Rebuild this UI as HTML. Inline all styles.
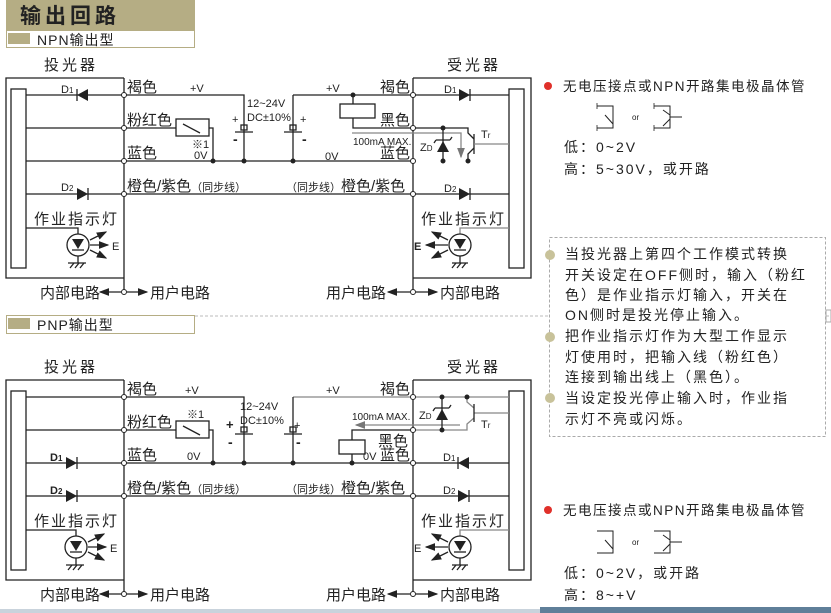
<!DOCTYPE html>
<html><head><meta charset="utf-8"><style>
body{margin:0;background:#fff;width:831px;height:613px;overflow:hidden}
svg{display:block}
text{font-family:"Liberation Sans","Noto Sans CJK SC",sans-serif;fill:#222}
.c{font-size:15px}
.s{font-size:11px}
.w{stroke:#222;stroke-width:1.3;fill:none}
.g{stroke:#888;stroke-width:1.3;fill:none}
.r{font-size:14px;letter-spacing:2px}
</style></head><body>
<svg width="831" height="613" viewBox="0 0 831 613">
<defs>
<marker id="ah" markerWidth="8" markerHeight="6" refX="7" refY="3" orient="auto"><path d="M0,0L8,3L0,6z" fill="#222"/></marker>
<marker id="ag" markerWidth="8" markerHeight="6" refX="7" refY="3" orient="auto"><path d="M0,0L8,3L0,6z" fill="#777"/></marker>
</defs>
<!-- header -->
<rect x="6" y="0" width="189" height="30" fill="#b5ad84"/>
<text x="20" y="23" style="font-size:21px;font-weight:bold;letter-spacing:4px" fill="#2a2a2a">输出回路</text>
<rect x="6.5" y="30.5" width="188" height="17" fill="#fff" stroke="#b5ad84"/>
<rect x="8" y="33" width="22" height="11" fill="#b5ad84"/>
<text x="37" y="45" style="font-size:14px;letter-spacing:1px">NPN输出型</text>

<!-- ========== NPN ========== -->
<text x="44" y="70" class="c" style="letter-spacing:3px">投光器</text>
<text x="447" y="70" class="c" style="letter-spacing:3px">受光器</text>
<path class="w" d="M124,78H6V278H124"/>
<rect x="11" y="89" width="15" height="179" class="w"/>
<path class="w" d="M124,78V292"/>
<path class="w" d="M413,78H531V278H413"/>
<rect x="509" y="89" width="15" height="179" class="w"/>
<path class="w" d="M413,78V292"/>
<path class="w" d="M26,95H244V125M26,128H176M26,161H413M26,194H413M209,128H213V161"/>
<rect x="176" y="119" width="33" height="17" class="w"/>
<path class="w" d="M183,124L200,133"/>
<polygon points="88,89 88,101 77,95" fill="#222"/><path class="w" d="M77,89V101"/>
<text x="61" y="93" class="s">D<tspan font-size="8">1</tspan></text>
<polygon points="77,188 77,200 88,194" fill="#222"/><path class="w" d="M88,188V200"/>
<text x="61" y="191" class="s">D<tspan font-size="8">2</tspan></text>
<text x="34" y="224" class="c" style="letter-spacing:2px">作业指示灯</text>
<path class="w" d="M26,228H78V234M78,256V263M68,263H86"/>
<path d="M70,268l4,-5M75,268l4,-5M80,268l4,-5" class="w" stroke-width="1"/>
<circle cx="78" cy="245" r="11" class="w"/>
<polygon points="72,239 84,239 78,249" fill="#222"/><path class="w" d="M72,250H84"/>
<path class="w" d="M90,240L106,232" marker-end="url(#ah)"/><path class="w" d="M90,245H108" marker-end="url(#ah)"/><path class="w" d="M90,250L106,258" marker-end="url(#ah)"/>
<text x="112" y="250" class="s">E</text>
<text x="127" y="92" class="c">褐色</text>
<text x="127" y="125" class="c">粉红色</text>
<text x="127" y="158" class="c">蓝色</text>
<text x="127" y="191" class="c">橙色/紫色<tspan font-size="11">（同步线）</tspan></text>
<text x="190" y="92" class="s">+V</text>
<text x="192" y="148" class="s">※1</text>
<text x="194" y="159" class="s">0V</text>
<path class="w" d="M244,125V161"/><rect x="241" y="125" width="6" height="5" class="w"/><path class="w" d="M235,132H253"/>
<text x="232" y="123" class="s">+</text><text x="233" y="144" style="font-size:14px;font-weight:bold">-</text>
<text x="247" y="107" class="s">12~24V</text><text x="247" y="121" class="s">DC±10%</text>
<path class="w" d="M293,95V125"/><path class="w" d="M293,125V161"/><rect x="290" y="125" width="6" height="5" class="w"/><path class="w" d="M284,132H302"/>
<text x="300" y="123" class="s">+</text><text x="302" y="144" style="font-size:14px;font-weight:bold">-</text>
<circle cx="213" cy="161" r="2.5" fill="#222"/><circle cx="244" cy="161" r="2.5" fill="#222"/><circle cx="293" cy="161" r="2.5" fill="#222"/>
<path class="w" d="M293,95H413"/>
<text x="326" y="92" class="s">+V</text>
<circle cx="353" cy="95" r="2.5" fill="#222"/>
<path class="w" d="M353,95V104M353,118V128H413"/>
<rect x="340" y="104" width="35" height="14" class="w"/>
<text x="380" y="125" class="c">黑色</text>
<path class="g" d="M352,133H461V157" marker-end="url(#ag)"/>
<text x="353" y="145" style="font-size:10px">100mA MAX.</text>
<text x="325" y="160" class="s">0V</text>
<text x="380" y="92" class="c">褐色</text>
<text x="380" y="158" class="c">蓝色</text>
<text x="286" y="191" class="c"><tspan font-size="11">（同步线）</tspan>橙色/紫色</text>
<path class="w" d="M413,128H468V133L474,139M474,148L468,154V161"/>
<path class="w" d="M474,134V154" stroke-width="2"/>
<path class="g" d="M474,144H509"/>
<text x="481" y="138" class="s">T<tspan font-size="8">r</tspan></text>
<path class="w" d="M443,128V161"/>
<polygon points="437,152 449,152 443,141" fill="#222"/><path class="w" d="M436,140H450M436,140l-2,3M450,140l2,-3"/>
<text x="420" y="151" class="s">Z<tspan font-size="8">D</tspan></text>
<circle cx="443" cy="128" r="2.5" fill="#222"/><circle cx="443" cy="161" r="2.5" fill="#222"/><circle cx="468" cy="161" r="2.5" fill="#222"/>
<path class="w" d="M413,95H509M413,194H509"/>
<polygon points="459,89 459,101 470,95" fill="#222"/><path class="w" d="M470,89V101"/>
<text x="444" y="93" class="s">D<tspan font-size="8">1</tspan></text>
<polygon points="459,188 459,200 470,194" fill="#222"/><path class="w" d="M470,188V200"/>
<text x="444" y="192" class="s">D<tspan font-size="8">2</tspan></text>
<text x="421" y="224" class="c" style="letter-spacing:2px">作业指示灯</text>
<path class="g" d="M509,228H460V234"/>
<path class="w" d="M460,256V263M452,263H468"/>
<path d="M452,268l4,-5M457,268l4,-5M462,268l4,-5" class="w" stroke-width="1"/>
<circle cx="460" cy="245" r="11" class="w"/>
<polygon points="454,239 466,239 460,249" fill="#222"/><path class="w" d="M454,250H466"/>
<path class="w" d="M448,240L432,232" marker-end="url(#ah)"/><path class="w" d="M448,245H426" marker-end="url(#ah)"/><path class="w" d="M448,250L432,258" marker-end="url(#ah)"/>
<text x="414" y="250" style="font-size:11px;font-weight:bold">E</text>
<g fill="#fff" stroke="#222" stroke-width="1">
<circle cx="124" cy="95" r="2.5"/><circle cx="124" cy="128" r="2.5"/><circle cx="124" cy="161" r="2.5"/><circle cx="124" cy="194" r="2.5"/><circle cx="124" cy="292" r="2.5"/>
<circle cx="413" cy="95" r="2.5"/><circle cx="413" cy="128" r="2.5"/><circle cx="413" cy="161" r="2.5"/><circle cx="413" cy="194" r="2.5"/><circle cx="413" cy="292" r="2.5"/>
</g>
<path class="w" d="M121,292H100" marker-end="url(#ah)"/><path class="w" d="M127,292H147" marker-end="url(#ah)"/><path class="w" d="M410,292H388" marker-end="url(#ah)"/><path class="w" d="M416,292H437" marker-end="url(#ah)"/>
<text x="40" y="298" class="c">内部电路</text><text x="150" y="298" class="c">用户电路</text>
<text x="326" y="298" class="c">用户电路</text><text x="440" y="298" class="c">内部电路</text>

<path d="M195,316H549M826,316H831" stroke="#bbb" stroke-dasharray="3,2" fill="none"/>
<rect x="6.5" y="315.5" width="188" height="18" fill="#fff" stroke="#b5ad84"/>
<rect x="8" y="318" width="22" height="11" fill="#b5ad84"/>
<text x="37" y="330" style="font-size:14px;letter-spacing:1px">PNP输出型</text>

<!-- ========== PNP ========== -->
<text x="44" y="372" class="c" style="letter-spacing:3px">投光器</text>
<text x="447" y="372" class="c" style="letter-spacing:3px">受光器</text>
<path class="w" d="M124,380H6V580H124"/>
<rect x="11" y="391" width="15" height="179" class="w"/>
<path class="w" d="M124,380V594"/>
<path class="w" d="M413,380H531V580H413"/>
<rect x="509" y="391" width="15" height="179" class="w"/>
<path class="w" d="M413,380V594"/>
<path class="w" d="M26,397H244V427M26,430H176M26,463H413M26,496H413M209,430H213V463"/>
<rect x="176" y="421" width="33" height="17" class="w"/>
<path class="w" d="M183,426L200,435"/>
<polygon points="66,457 66,469 77,463" fill="#222"/><path class="w" d="M77,457V469"/>
<text x="50" y="461" style="font-size:11px;font-weight:bold">D<tspan font-size="8">1</tspan></text>
<polygon points="66,490 66,502 77,496" fill="#222"/><path class="w" d="M77,490V502"/>
<text x="50" y="494" style="font-size:11px;font-weight:bold">D<tspan font-size="8">2</tspan></text>
<text x="34" y="526" class="c" style="letter-spacing:2px">作业指示灯</text>
<path class="w" d="M26,530H76V536M76,558V565M66,565H84"/>
<path d="M68,570l4,-5M73,570l4,-5M78,570l4,-5" class="w" stroke-width="1"/>
<circle cx="76" cy="547" r="11" class="w"/>
<polygon points="70,541 82,541 76,551" fill="#222"/><path class="w" d="M70,552H82"/>
<path class="w" d="M88,542L104,534" marker-end="url(#ah)"/><path class="w" d="M88,547H106" marker-end="url(#ah)"/><path class="w" d="M88,552L104,560" marker-end="url(#ah)"/>
<text x="110" y="552" class="s">E</text>
<text x="127" y="394" class="c">褐色</text>
<text x="127" y="427" class="c">粉红色</text>
<text x="127" y="460" class="c">蓝色</text>
<text x="127" y="493" class="c">橙色/紫色<tspan font-size="11">（同步线）</tspan></text>
<text x="185" y="394" class="s">+V</text>
<text x="187" y="418" class="s">※1</text>
<text x="187" y="460" class="s">0V</text>
<path class="w" d="M244,427V463"/><rect x="241" y="427" width="6" height="5" class="w"/><path class="w" d="M235,434H253"/>
<text x="226" y="429" style="font-size:13px;font-weight:bold">+</text><text x="228" y="447" style="font-size:14px;font-weight:bold">-</text>
<text x="240" y="410" class="s">12~24V</text><text x="240" y="424" class="s">DC±10%</text>
<path class="g" d="M293,397H413"/><path class="w" d="M293,397V463"/><rect x="290" y="427" width="6" height="5" class="w"/><path class="w" d="M284,434H302"/>
<text x="294" y="429" class="s">+</text><text x="296" y="447" style="font-size:14px;font-weight:bold">-</text>
<circle cx="213" cy="463" r="2.5" fill="#222"/><circle cx="244" cy="463" r="2.5" fill="#222"/><circle cx="293" cy="463" r="2.5" fill="#222"/><circle cx="352" cy="463" r="2.5" fill="#222"/>
<text x="326" y="394" class="s">+V</text>
<text x="380" y="394" class="c">褐色</text>
<text x="352" y="420" style="font-size:10px">100mA MAX.</text>
<path class="g" d="M460,425H356" marker-end="url(#ag)"/>
<path class="w" d="M413,430H352V440M352,454V463"/>
<rect x="339" y="440" width="26" height="14" class="w"/>
<text x="378" y="446" class="c">黑色</text>
<text x="363" y="460" class="s">0V</text><text x="380" y="460" class="c">蓝色</text>
<text x="286" y="493" class="c"><tspan font-size="11">（同步线）</tspan>橙色/紫色</text>
<path class="g" d="M413,397H509M467,397V402L474,408M474,418L467,424V430H413M474,413H509"/>
<path class="w" d="M474,404V422" stroke-width="2"/>
<text x="481" y="428" class="s">T<tspan font-size="8">r</tspan></text>
<path class="w" d="M442,397V430"/>
<polygon points="436,420 448,420 442,409" fill="#222"/><path class="w" d="M435,408H449M435,408l-2,3M449,408l2,-3"/>
<text x="419" y="419" class="s">Z<tspan font-size="8">D</tspan></text>
<circle cx="442" cy="397" r="2.5" fill="#222"/><circle cx="442" cy="430" r="2.5" fill="#222"/><circle cx="467" cy="397" r="2.5" fill="#222"/>
<path class="w" d="M413,463H509M413,496H509"/>
<polygon points="469,457 469,469 458,463" fill="#222"/><path class="w" d="M458,457V469"/>
<text x="443" y="461" class="s">D<tspan font-size="8">1</tspan></text>
<polygon points="458,490 458,502 469,496" fill="#222"/><path class="w" d="M469,490V502"/>
<text x="443" y="494" class="s">D<tspan font-size="8">2</tspan></text>
<text x="421" y="526" class="c" style="letter-spacing:2px">作业指示灯</text>
<path class="g" d="M509,530H460V536"/>
<path class="w" d="M460,558V565M452,565H468"/>
<path d="M452,570l4,-5M457,570l4,-5M462,570l4,-5" class="w" stroke-width="1"/>
<circle cx="460" cy="547" r="11" class="w"/>
<polygon points="454,541 466,541 460,551" fill="#222"/><path class="w" d="M454,552H466"/>
<path class="w" d="M448,542L432,534" marker-end="url(#ah)"/><path class="w" d="M448,547H426" marker-end="url(#ah)"/><path class="w" d="M448,552L432,560" marker-end="url(#ah)"/>
<text x="414" y="552" class="s">E</text>
<g fill="#fff" stroke="#222" stroke-width="1">
<circle cx="124" cy="397" r="2.5"/><circle cx="124" cy="430" r="2.5"/><circle cx="124" cy="463" r="2.5"/><circle cx="124" cy="496" r="2.5"/><circle cx="124" cy="594" r="2.5"/>
<circle cx="413" cy="397" r="2.5"/><circle cx="413" cy="430" r="2.5"/><circle cx="413" cy="463" r="2.5"/><circle cx="413" cy="496" r="2.5"/><circle cx="413" cy="594" r="2.5"/>
</g>
<path class="w" d="M121,594H100" marker-end="url(#ah)"/><path class="w" d="M127,594H147" marker-end="url(#ah)"/><path class="w" d="M410,594H388" marker-end="url(#ah)"/><path class="w" d="M416,594H437" marker-end="url(#ah)"/>
<text x="40" y="600" class="c">内部电路</text><text x="150" y="600" class="c">用户电路</text>
<text x="326" y="600" class="c">用户电路</text><text x="440" y="600" class="c">内部电路</text>

<!-- right panel -->
<circle cx="548" cy="86" r="4" fill="#e0302a"/>
<text x="563" y="91" style="font-size:13.5px;letter-spacing:1.5px">无电压接点或NPN开路集电极晶体管</text>
<path d="M597,106H613V128H597M605,115L613,124M654,106H670V128H654M670,112V122M670,117H682M670,115L663,110M670,119L663,126" stroke="#222" stroke-width="1" fill="none"/>
<path d="M597,103V109M597,125V131M654,103V109M654,125V131" stroke="#222" stroke-width="0.8"/>
<text x="632" y="120" font-size="8">or</text>
<text x="564" y="152" class="r">低：0~2V</text>
<text x="564" y="174" class="r">高：5~30V，或开路</text>
<rect x="549.5" y="237.5" width="276" height="199" fill="none" stroke="#aaa" stroke-dasharray="3,2"/>
<rect x="826" y="310" width="5" height="12" fill="none" stroke="#aaa"/>
<g fill="#c8c29a"><circle cx="550" cy="255" r="5"/><circle cx="550" cy="337" r="5"/><circle cx="550" cy="398" r="5"/></g>
<text x="565" y="259" class="r">当投光器上第四个工作模式转换</text>
<text x="565" y="280" class="r">开关设定在OFF侧时，输入（粉红</text>
<text x="565" y="300" class="r">色）是作业指示灯输入，开关在</text>
<text x="565" y="320" class="r">ON侧时是投光停止输入。</text>
<text x="565" y="341" class="r">把作业指示灯作为大型工作显示</text>
<text x="565" y="362" class="r">灯使用时，把输入线（粉红色）</text>
<text x="565" y="382" class="r">连接到输出线上（黑色）。</text>
<text x="565" y="403" class="r">当设定投光停止输入时，作业指</text>
<text x="565" y="424" class="r">示灯不亮或闪烁。</text>
<circle cx="548" cy="510" r="4" fill="#e0302a"/>
<text x="563" y="515" style="font-size:13.5px;letter-spacing:1.5px">无电压接点或NPN开路集电极晶体管</text>
<path d="M597,531H613V553H597M605,540L613,549M654,531H670V553H654M670,537V547M670,542H682M670,540L663,535M670,544L663,551" stroke="#222" stroke-width="1" fill="none"/>
<text x="632" y="545" font-size="8">or</text>
<text x="564" y="578" class="r">低：0~2V，或开路</text>
<text x="564" y="600" class="r">高：8~+V</text>
<rect x="540" y="607" width="291" height="6" fill="#5f7f99"/>
<rect x="0" y="609" width="540" height="4" fill="#c9d3dc"/>
</svg>
</body></html>
